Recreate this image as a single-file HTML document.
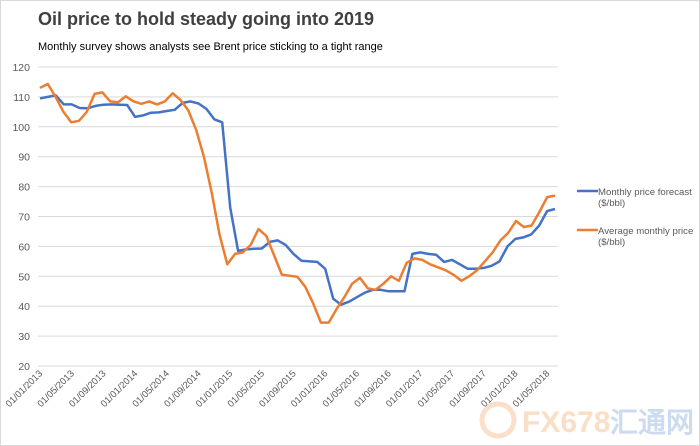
<!DOCTYPE html>
<html><head><meta charset="utf-8"><style>
body{margin:0;background:#fff}
svg{display:block}
text{font-family:"Liberation Sans",Arial,sans-serif}
</style></head><body>
<svg width="700" height="446" viewBox="0 0 700 446" xmlns="http://www.w3.org/2000/svg">
<rect x="0.5" y="0.5" width="699" height="445" fill="#fff" stroke="#d9d9d9"/>
<text x="38" y="25" font-size="18" font-weight="bold" fill="#404040">Oil price to hold steady going into 2019</text>
<text x="38" y="50" font-size="11" fill="#000">Monthly survey shows analysts see Brent price sticking to a tight range</text>
<g stroke="#d9d9d9" stroke-width="1" id="grid"></g>
<g font-size="10.5" fill="#595959" text-anchor="end" id="yl"></g>
<g font-size="9.5" fill="#595959" text-anchor="end" id="xl"></g>
<polyline id="b" fill="none" stroke="#4472c4" stroke-width="2.5" stroke-linejoin="round"/>
<polyline id="o" fill="none" stroke="#ed7d31" stroke-width="2.5" stroke-linejoin="round"/>
<line x1="577" y1="191" x2="598" y2="191" stroke="#4472c4" stroke-width="2.5"/>
<text x="598" y="195" font-size="9.6" fill="#595959">Monthly price forecast</text>
<text x="598" y="206" font-size="9.6" fill="#595959">($/bbl)</text>
<line x1="577" y1="230" x2="598" y2="230" stroke="#ed7d31" stroke-width="2.5"/>
<text x="598" y="234" font-size="9.6" fill="#595959">Average monthly price</text>
<text x="598" y="245" font-size="9.6" fill="#595959">($/bbl)</text>
<circle cx="498" cy="420" r="16" fill="none" stroke="#f6c9a8" stroke-width="5" opacity="0.6"/>
<text x="522" y="432" font-size="30" font-weight="bold" fill="#f8c9a0" opacity="0.6">FX678</text>
<text x="610" y="432" font-size="28" font-weight="bold" fill="#b9cdea" opacity="0.7" font-family="'Noto Sans CJK SC',sans-serif">汇通网</text>
</svg>
<script>
const Y=v=>366-(v-20)*2.99;
const g=document.getElementById('grid'),yl=document.getElementById('yl'),xl=document.getElementById('xl');
const ns='http://www.w3.org/2000/svg';
for(let v=20;v<=120;v+=10){const l=document.createElementNS(ns,'line');l.setAttribute('x1',38);l.setAttribute('x2',558);l.setAttribute('y1',Y(v));l.setAttribute('y2',Y(v));g.appendChild(l);
const t=document.createElementNS(ns,'text');t.setAttribute('x',30);t.setAttribute('y',Y(v)+4);t.textContent=v;yl.appendChild(t);}
const labs=['01/01/2013','01/05/2013','01/09/2013','01/01/2014','01/05/2014','01/09/2014','01/01/2015','01/05/2015','01/09/2015','01/01/2016','01/05/2016','01/09/2016','01/01/2017','01/05/2017','01/09/2017','01/01/2018','01/05/2018'];
const X=i=>40+i*515/65;
labs.forEach((s,k)=>{const t=document.createElementNS(ns,'text');const x=X(k*4)+3,y=374;t.setAttribute('x',x);t.setAttribute('y',y);t.setAttribute('transform',`rotate(-45 ${x} ${y})`);t.textContent=s;xl.appendChild(t);});
const b=[109.5,110,110.5,107.5,107.5,106.3,106.2,107,107.4,107.5,107.4,107.3,
103.3,103.8,104.7,104.8,105.3,105.7,108,108.5,107.8,106,102.5,101.5,
73,58.5,59,59.2,59.3,61.5,62,60.5,57.5,55.2,55,54.8,
52.5,42.5,40.5,41.5,43,44.5,45.5,45.5,45,45,45,57.5,
58,57.5,57.2,54.8,55.5,54,52.5,52.5,52.8,53.5,55,60,
62.5,63,64,67,71.8,72.5];
const o=[113,114.3,110,105,101.5,102,105,111,111.5,108.5,108.2,110.2,
108.5,107.7,108.5,107.5,108.5,111.2,109,105.5,99,90,78,64,
54,57.5,58,60.5,65.8,63.5,57,50.5,50.2,49.8,46.5,41,
34.5,34.5,39,43,47.5,49.5,46,45.5,47.5,50,48.5,54.5,
56,55.5,54,53,52,50.5,48.5,50,52,55,58,62,
64.5,68.5,66.5,67,71.5,76.5,77];
const pts=a=>a.map((v,i)=>X(i*65/(a.length-1)).toFixed(1)+','+Y(v).toFixed(1)).join(' ');
document.getElementById('b').setAttribute('points',pts(b));
document.getElementById('o').setAttribute('points',pts(o));
</script>
</body></html>
